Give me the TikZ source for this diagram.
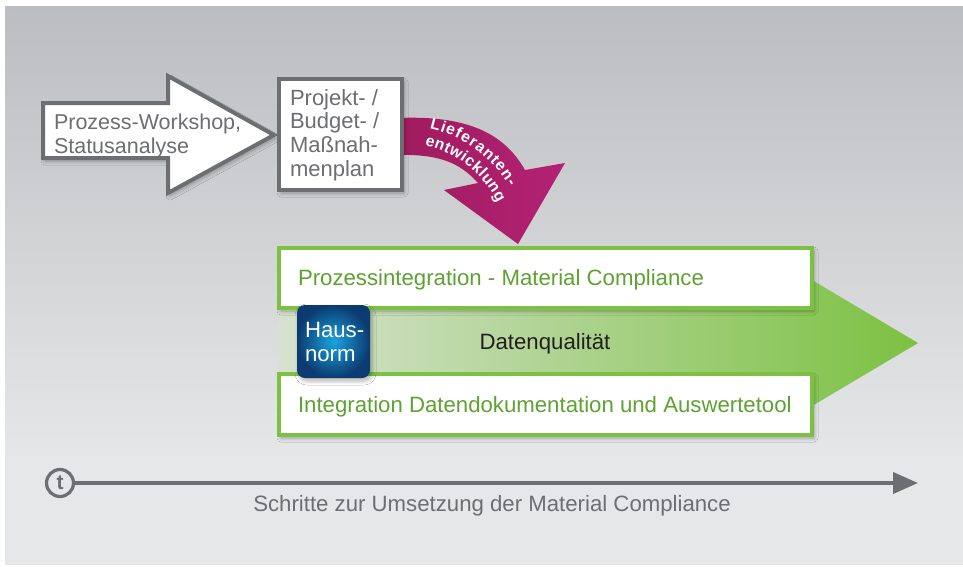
\documentclass[tikz,border=0pt]{standalone}
\usepackage{fontspec}
\setmainfont{Liberation Sans}
\usetikzlibrary{decorations.text,shadows.blur,arrows.meta}
\definecolor{bgtop}{HTML}{BCBDC0}
\definecolor{bgbot}{HTML}{E6E7E8}
\definecolor{dgray}{HTML}{6D6E71}
\definecolor{cgreen}{HTML}{7CC142}
\definecolor{tgreen}{HTML}{5EA232}
\definecolor{gpale}{HTML}{D6E2CF}
\definecolor{mag1}{HTML}{A01B5E}
\definecolor{mag2}{HTML}{B32274}
\definecolor{hblue1}{HTML}{1BA3DF}
\definecolor{hblue2}{HTML}{0B3B70}
\definecolor{dtext}{HTML}{231F20}
\newcommand\fs{\fontsize{22.2}{24}\selectfont}
\newcommand\fsg{\fontsize{22}{23.7}\selectfont}
\newcommand\fsa{\fontsize{21.5}{24}\selectfont}
\begin{document}
\begin{tikzpicture}[x=1pt,y=-1pt,
  every node/.style={inner sep=0pt, outer sep=0pt},
  graybox/.style={draw=dgray, line width=4pt, fill=white, line join=miter},
  greenbox/.style={draw=cgreen, line width=4pt, fill=white},
  shad/.style={blur shadow={shadow xshift=2pt, shadow yshift=-3pt, shadow blur steps=6, shadow blur radius=4pt, shadow opacity=30}},
  lbl/.style={font=\fs, anchor=west, align=left},
  curvetext/.style={decorate, decoration={text along path, text align={fit to path}, text color=white, text format delimiters={[}{]}}}
]
\useasboundingbox (0,0) rectangle (963,566);
% background
\fill[bgbot] (5,6) rectangle (963,565);
\shade[top color=bgtop, bottom color=bgbot] (5,6) rectangle (963,460);

% magenta arrow (Lieferantenentwicklung)
\shade[left color=mag1, right color=mag2]
  (398,118) .. controls (470,115) and (505,135) .. (525,170)
  -- (565,163) -- (518,244) -- (444,190) -- (478,183)
  .. controls (460,163) and (440,154) .. (398,155) -- cycle;
\path[curvetext, decoration={text={[\bfseries\fontsize{15.8}{15.8}\selectfont]Lieferanten-}}]
  (403,248) ++(-77.5:122.5) arc[start angle=-77.5, end angle=-30, radius=122.5];
\path[curvetext, decoration={text={[\bfseries\fontsize{15.8}{15.8}\selectfont]entwicklung}}]
  (403,248) ++(-78:104.6) arc[start angle=-78, end angle=-25.5, radius=104.6];

% left big arrow
\draw[graybox, shad] (43,103) -- (168,103) -- (168,76) -- (274,135)
  -- (168,193) -- (168,158) -- (43,158) -- cycle;
\node[lbl, font=\fsa, text=dgray] (pw) at (54,136) {Prozess-Workshop,\\Statusanalyse};

% plan box
\node[graybox, shad, minimum width=123pt, minimum height=111pt, anchor=north west] (plan) at (279,79) {};
\node[lbl, font=\fsg, text=dgray] (plantxt) at (290,135) {Projekt- /\\Budget- /\\Maßnah-\\menplan};

% green arrow
\shade[left color=gpale, right color=cgreen]
  (279,250) -- (812,250) -- (812,280) -- (918,343) -- (812,406)
  -- (812,434) -- (279,434) -- cycle;

% green boxes
\node[greenbox, shad, minimum width=533pt, minimum height=60pt, anchor=north west] (pi) at (279,248) {};
\node[lbl, text=tgreen] (pitxt) at (298,280) {Prozessintegration - Material Compliance};
\node[greenbox, shad, minimum width=533pt, minimum height=61pt, anchor=north west] (id) at (279,374) {};
\node[lbl, text=tgreen] (idtxt) at (298,407) {Integration Datendokumentation und Auswertetool};

% Datenqualitaet
\node[font=\fs, text=dtext] (dq) at (545,344) {Datenqualität};

% Hausnorm
\node[rounded corners=8pt, inner color=hblue1, outer color=hblue2, minimum size=73pt, anchor=north west, shad] (hn) at (297,305) {};
\node[lbl, text=white] (hntxt) at (305,342) {Haus-\\norm};

% timeline
\node[circle, draw=dgray, line width=3.2pt, minimum size=27pt, text=dgray, font=\bfseries\fontsize{21}{21}\selectfont] (t) at (60,483) {t};
\coordinate (tend) at (918,483);
\draw[dgray, line width=4pt, -{Triangle[length=25pt, width=21pt]}] (t) -- (tend);
\node[font=\fs, text=dgray] (cap) at (492,506) {Schritte zur Umsetzung der Material Compliance};
\end{tikzpicture}
\end{document}
